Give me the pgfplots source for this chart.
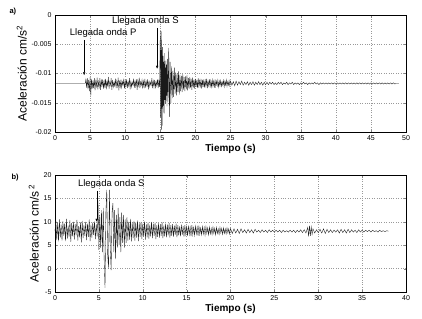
\documentclass[border=0pt]{standalone}
\usepackage{pgfplots}
\pgfplotsset{compat=1.18}
\usepackage{fontspec}
\setmainfont{Liberation Sans}
\usetikzlibrary{arrows.meta}
\begin{document}
\begin{tikzpicture}
\useasboundingbox (0pt,0pt) rectangle (422pt,-318pt);
\pgfplotsset{myaxis/.style={scale only axis, width=351pt, height=117pt,
  axis line style={line width=0.4pt}, tick align=inside, major tick length=2.5pt,
  grid=major, grid style={dotted, gray!80},
  tick label style={font=\fontsize{7}{8}\selectfont},
  xlabel style={font=\bfseries\fontsize{10}{12}\selectfont, yshift=3pt},
  ylabel style={font=\fontsize{12}{14}\selectfont, yshift=-2pt},
  /pgf/number format/assume math mode=true}}
\node[anchor=west, font=\bfseries\fontsize{7.5}{9}\selectfont] at (6pt,-12pt) {a)};
\node[anchor=west, font=\bfseries\fontsize{7.5}{9}\selectfont] at (8pt,-178pt) {b)};
\begin{axis}[myaxis, at={(55pt,-132pt)}, anchor=south west,
  xmin=0, xmax=50, ymin=-20, ymax=0,
  xtick={0,5,...,50}, ytick={-20,-15,-10,-5,0},
  yticklabels={-0.02,-0.015,-0.01,-0.005,0},
  xlabel={Tiempo (s)}, ylabel={Aceleración cm/s\textsuperscript{2}}]
\addplot[black!90, line width=0.35pt, no markers] coordinates {(0,-11.7) (4.3,-11.7)
(4.4,-11.0) (4.5,-12.4) (4.6,-10.8) (4.7,-12.7) (4.8,-11.1) (4.9,-13.0) (5.0,-10.6) (5.1,-13.8) (5.2,-10.9) (5.3,-12.6) (5.4,-11.2) (5.5,-12.5) (5.6,-10.8) (5.7,-12.9) (5.8,-11.3) (5.9,-12.2) (6.0,-10.7) (6.1,-12.7) (6.2,-11.4) (6.3,-12.3) (6.4,-10.8) (6.5,-12.8) (6.6,-11.2) (6.7,-12.1) (6.8,-11.0) (6.9,-12.6) (7.0,-11.3) (7.1,-12.4) (7.2,-10.9) (7.3,-12.7) (7.4,-11.2) (7.5,-12.2) (7.6,-10.6) (7.7,-12.6) (7.8,-11.4) (7.9,-12.0) (8.0,-10.8) (8.1,-12.8) (8.2,-11.1) (8.3,-12.3) (8.4,-11.5) (8.5,-12.1) (8.6,-10.9) (8.7,-12.5) (8.8,-11.3) (8.9,-12.2) (9.0,-10.7) (9.1,-12.9) (9.2,-11.2) (9.3,-12.3) (9.4,-11.0) (9.5,-12.4) (9.6,-11.4) (9.7,-12.0) (9.8,-10.9) (9.9,-12.6) (10.0,-11.3) (10.1,-12.2) (10.2,-11.0) (10.3,-12.5) (10.4,-11.4) (10.5,-12.1) (10.6,-10.8) (10.7,-12.7) (10.8,-11.2) (10.9,-12.3) (11.0,-11.5) (11.1,-12.0) (11.2,-10.9) (11.3,-12.4) (11.4,-11.3) (11.5,-12.2) (11.6,-11.0) (11.7,-12.8) (11.8,-11.2) (11.9,-12.1) (12.0,-10.7) (12.1,-12.5) (12.2,-11.4) (12.3,-12.0) (12.4,-11.1) (12.5,-12.6) (12.6,-11.3) (12.7,-12.3) (12.8,-10.9) (12.9,-12.4) (13.0,-11.4) (13.1,-12.1) (13.2,-11.0) (13.3,-12.7) (13.4,-11.2) (13.5,-12.2) (13.6,-11.5) (13.7,-12.0) (13.8,-10.8) (13.9,-12.5) (14.0,-11.3) (14.1,-12.3) (14.2,-11.1) (14.3,-12.4) (14.4,-11.4) (14.5,-12.1) (14.6,-11.0) (14.7,-12.5) (14.8,-11.2) (14.9,-12.3)
(15.0,-2.6) (15.05,-17.5) (15.1,-6.0) (15.15,-19.6) (15.2,-2.8) (15.25,-16.0) (15.3,-5.5) (15.35,-18.9) (15.4,-7.0) (15.45,-15.5) (15.5,-8.0) (15.55,-16.8) (15.6,-6.5) (15.65,-14.5) (15.7,-9.0) (15.75,-15.2) (15.8,-7.8) (15.85,-13.8) (15.9,-8.5) (15.95,-15.6) (16.0,-7.5) (16.1,-14.8) (16.2,-5.6) (16.3,-17.4) (16.4,-8.0) (16.5,-15.0) (16.6,-8.8) (16.7,-14.2) (16.8,-9.5) (16.9,-14.0) (17.0,-9.0) (17.1,-13.5) (17.2,-9.8) (17.3,-13.8) (17.4,-10.0) (17.5,-13.2) (17.6,-9.6) (17.7,-13.6) (17.8,-10.2) (17.9,-13.0) (18.0,-10.4) (18.1,-13.2) (18.2,-10.1) (18.3,-12.8) (18.4,-10.6) (18.5,-13.0) (18.6,-10.5) (18.7,-12.7) (18.8,-10.3) (18.9,-12.9) (19.0,-10.8) (19.1,-12.6) (19.2,-10.6) (19.3,-12.5) (19.4,-10.9) (19.5,-12.8) (19.6,-10.7) (19.7,-12.4) (19.8,-11.0) (19.9,-12.6) (20.0,-10.9) (20.1,-12.3) (20.2,-11.1) (20.3,-12.5) (20.4,-10.8) (20.5,-12.4) (20.6,-11.2) (20.7,-12.2) (20.8,-10.9) (20.9,-12.6) (21.0,-11.1) (21.1,-12.3) (21.2,-11.0) (21.3,-12.4) (21.4,-11.2) (21.5,-12.2) (21.6,-10.9) (21.7,-12.5) (21.8,-11.3) (21.9,-12.1) (22.0,-11.0) (22.1,-12.4) (22.2,-11.2) (22.3,-12.3) (22.4,-11.1) (22.5,-12.2) (22.6,-11.3) (22.7,-12.4) (22.8,-11.0) (22.9,-12.2) (23.0,-11.3) (23.1,-12.1) (23.2,-11.1) (23.3,-12.3) (23.4,-11.3) (23.5,-12.1) (23.6,-11.2) (23.7,-12.2) (23.8,-11.4) (23.9,-12.0) (24.0,-11.2) (24.1,-12.3) (24.2,-11.3) (24.3,-12.0) (24.4,-11.1) (24.5,-12.2) (24.6,-11.4) (24.7,-12.0) (24.8,-11.2) (24.9,-12.1)
(25.0,-11.3) (25.2,-12.0) (25.4,-11.4) (25.6,-12.1) (25.8,-11.3) (26.0,-12.0) (26.2,-11.4) (26.4,-11.9) (26.6,-11.3) (26.8,-12.0) (27.0,-11.5) (27.2,-11.9) (27.4,-11.4) (27.6,-12.0) (27.8,-11.5) (28.0,-11.9) (28.2,-11.4) (28.4,-12.0) (28.6,-11.5) (28.8,-11.9) (29.0,-11.4) (29.2,-11.9) (29.4,-11.5) (29.6,-12.0) (29.8,-11.5) (30.0,-11.9) (30.2,-11.5) (30.4,-11.9) (30.6,-11.5) (30.8,-11.8) (31.0,-11.5) (31.2,-11.9) (31.4,-11.6) (31.6,-11.9) (31.8,-11.5) (32.0,-11.8) (32.2,-11.5) (32.4,-11.9) (32.6,-11.6) (32.8,-11.8) (33.0,-11.5) (33.2,-11.9) (33.4,-11.6) (33.6,-11.8) (33.8,-11.5) (34.0,-11.9) (34.2,-11.6) (34.4,-11.8) (34.6,-11.6) (34.8,-11.9) (35.0,-11.6) (35.2,-11.8) (35.4,-11.5) (35.6,-11.8) (35.8,-11.6) (36.0,-11.9) (36.2,-11.6) (36.4,-11.8) (36.6,-11.6) (36.8,-11.8) (37.0,-11.5) (37.2,-11.8) (37.4,-11.6) (37.6,-11.9) (37.8,-11.6) (38.0,-11.8) (38.2,-11.6) (38.4,-11.8) (38.6,-11.6) (38.8,-11.8) (39.0,-11.6) (39.2,-11.8) (39.4,-11.6) (39.6,-11.8) (39.8,-11.6) (40.0,-11.8) (40.2,-11.6) (40.4,-11.8) (40.6,-11.6) (40.8,-11.8) (41.0,-11.6) (41.2,-11.8) (41.4,-11.6) (41.6,-11.8) (41.8,-11.6) (42.0,-11.8) (42.2,-11.6) (42.4,-11.8) (42.6,-11.6) (42.8,-11.8) (43.0,-11.6) (43.2,-11.8) (43.4,-11.6) (43.6,-11.8) (43.8,-11.6) (44.0,-11.8) (44.2,-11.6) (44.4,-11.8) (44.6,-11.6) (44.8,-11.8) (45.0,-11.6) (45.2,-11.8) (45.4,-11.6) (45.6,-11.8) (45.8,-11.6) (46.0,-11.8) (46.2,-11.6) (46.4,-11.8) (46.6,-11.6) (46.8,-11.8) (47.0,-11.6) (47.2,-11.8) (47.4,-11.6) (47.6,-11.8) (47.8,-11.6) (48.0,-11.8) (48.2,-11.6) (48.4,-11.8) (48.6,-11.7) (48.8,-11.7) (49.0,-11.7)};
\node[anchor=west, inner sep=0pt, font=\fontsize{9.5}{11}\selectfont] at (axis cs:2.1,-3.1) {Llegada onda P};
\draw[-{Latex[length=3pt,width=2.5pt]}, line width=0.35pt] (axis cs:4.15,-4.3) -- (axis cs:4.15,-10.3);
\node[anchor=west, inner sep=0pt, font=\fontsize{9.5}{11}\selectfont] at (axis cs:8.1,-1.1) {Llegada onda S};
\draw[-{Latex[length=3pt,width=2.5pt]}, line width=0.35pt] (axis cs:14.55,-2.2) -- (axis cs:14.55,-9.2);
\end{axis}
\begin{axis}[myaxis, at={(55pt,-292pt)}, anchor=south west,
  xmin=0, xmax=40, ymin=-5, ymax=20,
  xtick={0,5,...,40}, ytick={-5,0,5,10,15,20},
  xlabel={Tiempo (s)}, ylabel={Aceleración cm/s\,\textsuperscript{2}}]
\addplot[black!90, line width=0.35pt, no markers] coordinates {(0,8.0) (0.1,10.2) (0.2,6.1) (0.3,9.8) (0.4,5.8) (0.5,10.5) (0.6,6.6) (0.7,9.4) (0.8,6.0) (0.9,10.1) (1.0,7.0) (1.1,9.6) (1.2,5.9) (1.3,10.6) (1.4,6.4) (1.5,9.2) (1.6,6.8) (1.7,10.3) (1.8,5.7) (1.9,9.7) (2.0,6.9) (2.1,10.0) (2.2,6.2) (2.3,9.5) (2.4,7.1) (2.5,10.4) (2.6,6.0) (2.7,9.1) (2.8,6.7) (2.9,9.9) (3.0,5.6) (3.1,10.2) (3.2,6.5) (3.3,9.3) (3.4,7.0) (3.5,10.0) (3.6,6.1) (3.7,9.6) (3.8,6.8) (3.9,10.5) (4.0,5.9) (4.1,9.4) (4.2,6.6) (4.3,9.8) (4.4,7.2) (4.5,10.1) (4.6,6.3) (4.7,9.5) (4.8,6.9) (4.9,14.5) (5.0,4.0) (5.1,11.5) (5.2,4.5) (5.3,12.5) (5.4,3.5) (5.5,13.0) (5.6,2.0) (5.7,-4.1) (5.8,12.0) (5.9,16.8) (6.0,3.0) (6.1,0.0) (6.2,16.8) (6.3,4.0) (6.4,-0.3) (6.5,12.0) (6.6,14.0) (6.7,3.5) (6.8,12.5) (6.9,2.0) (7.0,11.5) (7.1,4.5) (7.2,13.0) (7.3,5.0) (7.4,11.0) (7.5,3.5) (7.6,12.0) (7.7,5.5) (7.8,11.5) (7.9,4.5) (8.0,10.5) (8.1,5.5) (8.2,11.0) (8.3,6.0) (8.4,10.0) (8.5,6.2) (8.6,10.6) (8.7,5.8) (8.8,9.8) (8.9,6.5) (9.0,10.2)
(9.1,6.0) (9.2,9.9) (9.3,6.6) (9.4,10.3) (9.5,5.9) (9.6,9.7) (9.7,6.8) (9.8,10.0) (9.9,6.3) (10.0,9.6) (10.1,6.9) (10.2,10.1) (10.3,6.2) (10.4,9.5) (10.5,6.7) (10.6,9.9) (10.7,6.4) (10.8,9.4) (10.9,6.9) (11.0,10.0) (11.1,6.5) (11.2,9.6) (11.3,7.0) (11.4,9.8) (11.5,6.3) (11.6,9.3) (11.7,6.8) (11.8,9.7) (11.9,6.6) (12.0,9.5) (12.1,7.0) (12.2,9.9) (12.3,6.5) (12.4,9.2) (12.5,6.9) (12.6,9.6) (12.7,6.7) (12.8,9.4) (12.9,7.1) (13.0,9.7) (13.1,6.6) (13.2,9.3) (13.3,7.0) (13.4,9.5) (13.5,6.8) (13.6,9.2) (13.7,7.2) (13.8,9.6) (13.9,6.7) (14.0,9.3) (14.1,7.1) (14.2,9.0) (14.3,6.9) (14.4,9.4) (14.5,7.2) (14.6,9.1) (14.7,6.8) (14.8,9.3) (14.9,7.3) (15.0,9.0) (15.1,7.0) (15.2,9.2) (15.3,7.3) (15.4,8.9) (15.5,6.9) (15.6,9.3) (15.7,7.2) (15.8,8.8) (15.9,7.1) (16.0,9.1) (16.1,7.4) (16.2,8.9) (16.3,7.0) (16.4,9.2) (16.5,7.3) (16.6,8.7) (16.7,7.2) (16.8,9.0) (16.9,7.4) (17.0,8.8) (17.1,7.1) (17.2,9.0) (17.3,7.5) (17.4,8.7) (17.5,7.2) (17.6,8.9) (17.7,7.4) (17.8,8.6) (17.9,7.3) (18.0,8.9) (18.1,7.5) (18.2,8.6) (18.3,7.2) (18.4,8.8) (18.5,7.5) (18.6,8.5) (18.7,7.3) (18.8,8.8) (18.9,7.6) (19.0,8.6) (19.1,7.3) (19.2,8.7) (19.3,7.5) (19.4,8.5) (19.5,7.4) (19.6,8.7) (19.7,7.6) (19.8,8.5) (19.9,7.4) (20.0,8.6)
(20.2,7.5) (20.4,8.5) (20.6,7.6) (20.8,8.4) (21.0,7.5) (21.2,8.5) (21.4,7.7) (21.6,8.3) (21.8,7.6) (22.0,8.4) (22.2,7.7) (22.4,8.3) (22.6,7.6) (22.8,8.4) (23.0,7.8) (23.2,8.2) (23.4,7.7) (23.6,8.3) (23.8,7.8) (24.0,8.2) (24.2,7.7) (24.4,8.3) (24.6,7.8) (24.8,8.2) (25.0,7.8) (25.2,8.2) (25.4,7.8) (25.6,8.2) (25.8,7.7) (26.0,8.2) (26.2,7.8) (26.4,8.1) (26.6,7.8) (26.8,8.2) (27.0,7.8) (27.2,8.2) (27.4,7.7) (27.6,8.2) (27.8,7.8) (28.0,8.3) (28.2,7.7) (28.4,8.3) (28.6,7.6) (28.8,8.8) (28.9,6.9) (29.0,9.2) (29.1,7.0) (29.2,8.9) (29.3,7.3) (29.4,8.5) (29.6,7.6) (29.8,8.3) (30.0,7.7) (30.2,8.4) (30.4,7.6) (30.6,8.5) (30.8,7.5) (31.0,8.4) (31.2,7.7) (31.4,8.3) (31.6,7.7) (31.8,8.2) (32.0,7.8) (32.2,8.3) (32.4,7.6) (32.6,8.4) (32.8,7.7) (33.0,8.3) (33.2,7.6) (33.4,8.4) (33.6,7.7) (33.8,8.3) (34.0,7.8) (34.2,8.2) (34.4,7.7) (34.6,8.3) (34.8,7.8) (35.0,8.2) (35.2,7.8) (35.4,8.2) (35.6,7.9) (35.8,8.2) (36.0,7.8) (36.2,8.2) (36.4,7.9) (36.6,8.1) (36.8,7.8) (37.0,8.2) (37.2,7.9) (37.4,8.1) (37.6,7.9) (37.8,8.1) (38.0,8.0)};
\node[anchor=west, inner sep=0pt, font=\fontsize{9.5}{11}\selectfont] at (axis cs:2.6,18.1) {Llegada onda S};
\draw[-{Latex[length=3pt,width=2.5pt]}, line width=0.35pt] (axis cs:4.75,16.6) -- (axis cs:4.75,10.0);
\node[anchor=south west, inner sep=1pt, font=\fontsize{7}{8}\selectfont] at (rel axis cs:0,1) {x 10\textsuperscript{-3}};
\end{axis}
\end{tikzpicture}
\end{document}
